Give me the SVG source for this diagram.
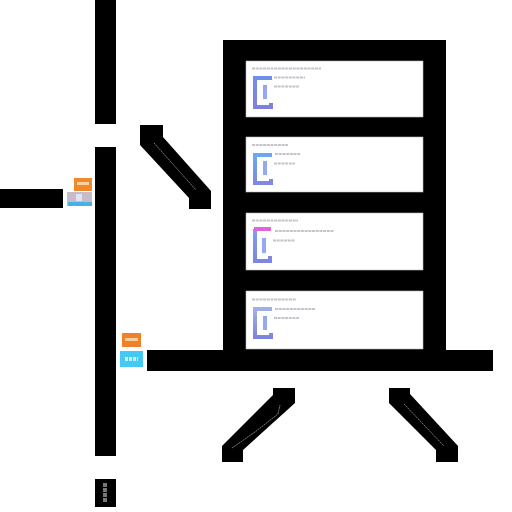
<svg xmlns="http://www.w3.org/2000/svg" width="512" height="512" viewBox="0 0 512 512">
<defs>
<linearGradient id="g1" x1="0" y1="0" x2="0" y2="1"><stop offset="0" stop-color="#6f8fe8"/><stop offset="1" stop-color="#7f80dc"/></linearGradient>
<linearGradient id="g2" x1="0" y1="0" x2="0" y2="1"><stop offset="0" stop-color="#6aa8f5"/><stop offset="1" stop-color="#8088e0"/></linearGradient>
<linearGradient id="g3" x1="0" y1="0" x2="0" y2="1"><stop offset="0" stop-color="#7f9cf0"/><stop offset="1" stop-color="#7d86e0"/></linearGradient>
<linearGradient id="g4" x1="0" y1="0" x2="0" y2="1"><stop offset="0" stop-color="#9fb0e6"/><stop offset="1" stop-color="#7d86dc"/></linearGradient>
</defs>
<style>
.k{fill:#000}
.p{fill:#fff;stroke:#bbb;stroke-width:.6}
.s{fill:none;stroke:#c4c4cc;stroke-width:2.2;stroke-dasharray:3 .7}
.d{fill:none;stroke:#777;stroke-width:1;stroke-dasharray:2 .6}
.b{fill:none;stroke-width:4;stroke-linejoin:miter}
.i{fill:#94a8f4}
</style>
<rect width="512" height="512" fill="#fff"/>
<g id="connectors">
<rect class="k" x="95" y="0" width="21" height="124"/>
<rect class="k" x="95" y="147" width="21" height="309"/>
<rect class="k" x="0" y="189" width="63" height="19"/>
<rect class="k" x="147" y="350" width="346" height="21"/>
<path class="k" d="M140 125H163V137L211 191V209H189V198L140 145Z"/>
<path class="d" d="M154 143L196 190"/>
<path class="k" d="M273 388H295V403L243 450V462H222V446L273 395Z"/>
<path class="d" d="M232 448L255 432L278 414L280 405"/>
<path class="k" d="M389 388H410V394L458 446V462H436V450L389 403Z"/>
<path class="d" d="M404 404L444 446"/>
</g>
<g id="frame">
<rect class="k" x="223" y="40" width="223" height="315"/>
</g>
<g id="panel-1">
<rect class="p" x="246" y="61" width="177" height="56"/>
<path class="s" d="M252 68.500H321"/>
<path class="s" d="M274 77.500H305M274 86.500H299"/>
<path class="b" stroke="url(#g1)" d="M272 78H255V107H271V103"/>
<rect class="i" x="263" y="85" width="4" height="14"/>
</g>
<g id="panel-2">
<rect class="p" x="246" y="137" width="177" height="55"/>
<path class="s" d="M252 145H288"/>
<path class="s" d="M275 154H300M274 163.500H295"/>
<path class="b" stroke="url(#g2)" d="M272 155H255V183H271V179"/>
<rect class="i" x="263" y="161" width="4" height="14"/>
</g>
<g id="panel-3">
<rect class="p" x="246" y="213" width="177" height="57"/>
<path class="s" d="M252 220.500H298"/>
<path class="s" d="M275 231H334M273 240.500H295"/>
<path class="b" stroke="url(#g3)" d="M256 231H255V261H270V256"/>
<path d="M254 229H271" stroke="#dd66d8" stroke-width="4"/>
<rect class="i" x="262" y="238" width="4" height="15"/>
</g>
<g id="panel-4">
<rect class="p" x="246" y="291" width="177" height="58"/>
<path class="s" d="M252 299.500H296"/>
<path class="s" d="M275 309H315M274 318H299"/>
<path class="b" stroke="url(#g4)" d="M272 309H255V337H271V333"/>
<rect class="i" x="263" y="316" width="4" height="14"/>
</g>
<g id="tag-a">
<rect x="74" y="178" width="18" height="13" fill="#ef8a2c"/>
<rect x="77" y="182" width="12" height="3" fill="#f6d0a0"/>
</g>
<g id="tag-b">
<rect x="67" y="192" width="25" height="14" fill="#c6bcc8"/>
<rect x="68" y="202" width="24" height="4" fill="#4aaee8"/>
<rect x="76" y="194" width="6" height="7" fill="#e0e4f4"/>
</g>
<g id="tag-c">
<rect x="122" y="333" width="19" height="14" fill="#f0812a"/>
<rect x="125" y="338" width="13" height="3" fill="#f4cf9a"/>
</g>
<g id="tag-d">
<rect x="120" y="351" width="23" height="16" fill="#45c8f4"/>
<path d="M125 359H138" stroke="#c8eef8" stroke-width="4" stroke-dasharray="3 1"/>
</g>
<g id="box">
<rect class="k" x="95" y="479" width="21" height="28"/>
<path d="M105 483V502" stroke="#777" stroke-width="4" stroke-dasharray="4 1"/>
</g>
</svg>
